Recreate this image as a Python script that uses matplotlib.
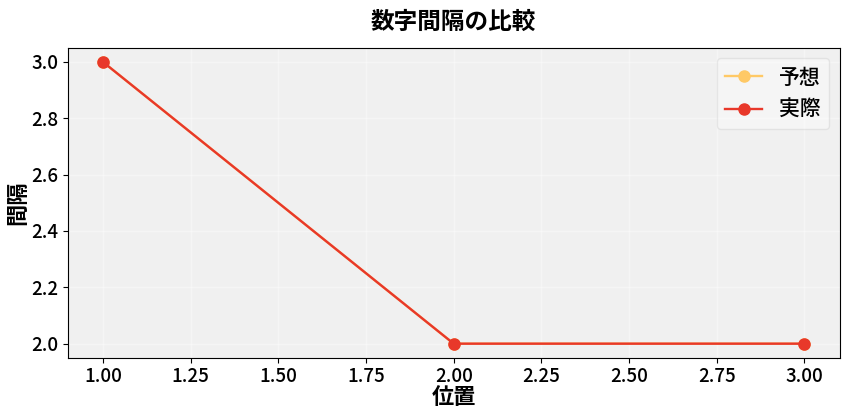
import matplotlib
matplotlib.use('Agg')
import matplotlib.pyplot as plt

plt.rcParams['font.family'] = ['Noto Sans CJK JP', 'DejaVu Sans']

positions = [1, 2, 3]
predicted = [3, 2, 2]
actual = [3, 2, 2]

fig, ax = plt.subplots(figsize=(8.48, 4.16), dpi=100)
ax.set_facecolor('#f0f0f0')

ax.plot(positions, predicted, marker='o', color='#ffc966', linewidth=1.7, markersize=8, label='予想')
ax.plot(positions, actual, marker='o', color='#e8382a', linewidth=1.7, markersize=8, label='実際')

ax.set_title('数字間隔の比較', fontsize=17, fontweight='bold', pad=14)
ax.set_xlabel('位置', fontsize=16, fontweight='bold', labelpad=0)
ax.set_ylabel('間隔', fontsize=16, fontweight='bold', labelpad=1)
ax.tick_params(labelsize=13.5)
for lbl in ax.get_xticklabels() + ax.get_yticklabels():
    lbl.set_fontweight('medium')
ax.grid(True, color='white', alpha=0.4, linewidth=1)
ax.legend(prop={'size': 15, 'weight': 'medium'}, loc='upper right', handlelength=1.8, framealpha=0.4)

fig.subplots_adjust(left=0.08, right=0.99, top=0.885, bottom=0.14)
fig.savefig('out.png', dpi=100)
